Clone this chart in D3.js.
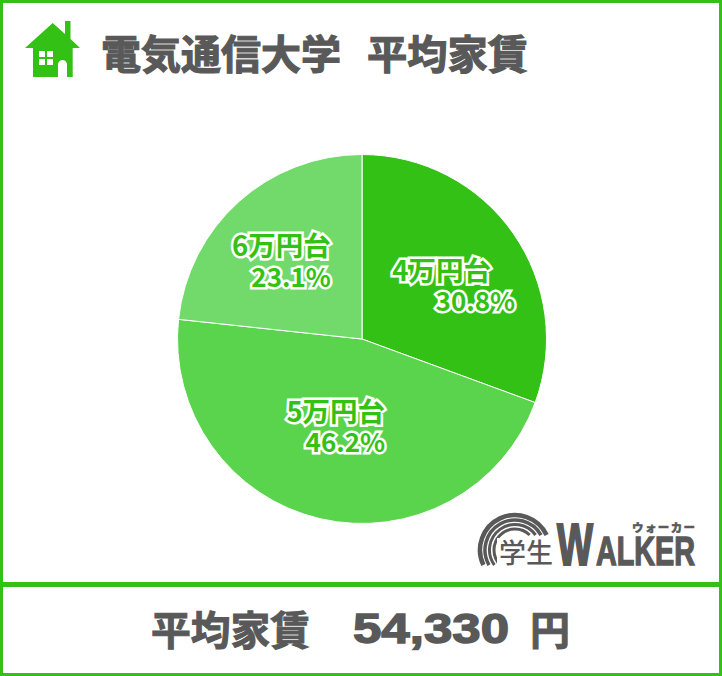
<!DOCTYPE html>
<html><head><meta charset="utf-8">
<style>html,body{margin:0;padding:0;background:#fff}svg{display:block;font-family:"Noto Sans CJK JP","Noto Sans",sans-serif}</style>
<script src="https://cdn.jsdelivr.net/npm/d3@7/dist/d3.min.js"></script></head><body>
<div id="c"></div>
<script>
const categories = ["4万円台", "5万円台", "6万円台"];
const shares = [30.6, 46.1, 23.3];
const shareLabels = ["30.8%", "46.2%", "23.1%"];
const sliceColors = ["#34c116", "#5ad34d", "#72da6b"];
const titleLeft = "電気通信大学";
const titleRight = "平均家賃";
const rentLabel = "平均家賃";
const rentValue = "54,330";
const rentUnit = "円";

const W = 722, H = 676, GREEN = "#34c116", GRAY = "#595959";
const LATIN = "'Liberation Sans',sans-serif";
const svg = d3.select("#c").append("svg").attr("width", W).attr("height", H);
svg.append("rect").attr("width", W).attr("height", H).attr("fill", "#fff");

// frame
const frame = svg.append("g").attr("fill", GREEN);
frame.append("rect").attr("x", 0).attr("y", 0).attr("width", W).attr("height", 3);
frame.append("rect").attr("x", 0).attr("y", 0).attr("width", 3).attr("height", H);
frame.append("rect").attr("x", 719).attr("y", 0).attr("width", 3).attr("height", H);
frame.append("rect").attr("x", 0).attr("y", 673).attr("width", W).attr("height", 3);
frame.append("rect").attr("x", 0).attr("y", 582).attr("width", W).attr("height", 5);

// house icon
svg.append("path").attr("fill", GREEN).attr("fill-rule", "evenodd")
  .attr("d", "M25 48 L52.7 23 L65 34 L65 21 L70.5 21 L70.5 39 L80 48 L72.7 48 L72.7 77 L67 77 L67 64.5 A4.5 4.5 0 0 0 58 64.5 L58 77 L33 77 L33 48 Z M39 51 h6 v6 h-6 Z M47 51 h6 v6 h-6 Z M39 59 h6 v6 h-6 Z M47 59 h6 v6 h-6 Z");

// title
const title = svg.append("g").attr("fill", GRAY).attr("stroke", GRAY).attr("stroke-width", 1.2)
  .attr("font-weight", 700).attr("font-size", 40);
title.append("text").attr("x", 101).attr("y", 69).attr("textLength", 240).attr("lengthAdjust", "spacingAndGlyphs").text(titleLeft);
title.append("text").attr("x", 367).attr("y", 69).attr("textLength", 161).attr("lengthAdjust", "spacingAndGlyphs").text(titleRight);

// pie
const cx = 362, cy = 339, R = 184.5;
const pie = d3.pie().sort(null).value(d => d)(shares);
const arc = d3.arc().innerRadius(0).outerRadius(R);
const g = svg.append("g").attr("transform", `translate(${cx},${cy})`);
g.selectAll("path").data(pie).join("path")
  .attr("d", arc).attr("fill", (d, i) => sliceColors[i])
  .attr("stroke", "#fff").attr("stroke-width", 1);

// slice labels, placed from each slice centroid
const labelArc = d3.arc().innerRadius(105).outerRadius(105);
const nudges = [[[43, 2], [67, 32]], [[47, -19], [47, 11]], [[39, -5], [39, 26]]];
const lab = g.selectAll("g.l").data(pie).join("g").attr("class", "l")
  .attr("transform", d => `translate(${labelArc.centroid(d)})`);
function lbl(sel, pick, line, size) {
  sel.append("text").attr("text-anchor", "end").attr("font-weight", 700).attr("font-size", size)
    .attr("x", (d, i) => nudges[i][line][0]).attr("y", (d, i) => nudges[i][line][1])
    .attr("fill", GREEN).attr("stroke", "#fff").attr("stroke-width", 5)
    .attr("stroke-linejoin", "miter").style("paint-order", "stroke")
    .text((d, i) => pick[i]);
}
lbl(lab, categories, 0, 27.5);
lbl(lab, shareLabels, 1, 26);

// footer
const foot = svg.append("g").attr("fill", GRAY).attr("stroke", GRAY).attr("stroke-width", 1).attr("font-weight", 700);
foot.append("text").attr("x", 151).attr("y", 645).attr("font-size", 40).attr("textLength", 159).attr("lengthAdjust", "spacingAndGlyphs").text(rentLabel);
foot.append("text").attr("x", 353).attr("y", 643).attr("font-size", 42).attr("textLength", 156).attr("stroke-width", 1.4)
  .attr("lengthAdjust", "spacingAndGlyphs").attr("font-family", LATIN).text(rentValue);
foot.append("text").attr("x", 530).attr("y", 645).attr("font-size", 40).text(rentUnit);

// logo
const logo = svg.append("g").attr("fill", "none").attr("stroke", GRAY);
const lx = 515, ly = 550;
[[35, 4.5], [30, 3.5], [25.5, 3], [21, 3]].forEach(([r, w]) => {
  const d = Math.sqrt(r * r - 15 * 15);
  logo.append("path").attr("stroke-width", w)
    .attr("d", `M${lx - d} 565 A${r} ${r} 0 1 1 ${lx + d} 535`);
});
const lt = svg.append("g").attr("fill", GRAY).attr("font-weight", 700);
lt.append("rect").attr("x", 497).attr("y", 538).attr("width", 58).attr("height", 28).attr("fill", "#fff");
lt.append("text").attr("x", 499).attr("y", 563).attr("font-size", 27).attr("font-weight", 500).text("学生");
lt.append("text").attr("x", 557).attr("y", 565).attr("font-family", LATIN)
  .attr("font-size", 60).attr("stroke", GRAY).attr("stroke-width", 2.2)
  .attr("textLength", 36).attr("lengthAdjust", "spacingAndGlyphs").text("W");
lt.append("text").attr("x", 596).attr("y", 565).attr("font-family", LATIN)
  .attr("font-size", 40).attr("stroke", GRAY).attr("stroke-width", 1.4)
  .attr("textLength", 99).attr("lengthAdjust", "spacingAndGlyphs").text("ALKER");
lt.append("text").attr("x", 632).attr("y", 532).attr("font-size", 11.5).attr("font-weight", 900)
  .attr("stroke", GRAY).attr("stroke-width", 0.4)
  .attr("textLength", 63).text("ウォーカー");
</script></body></html>
